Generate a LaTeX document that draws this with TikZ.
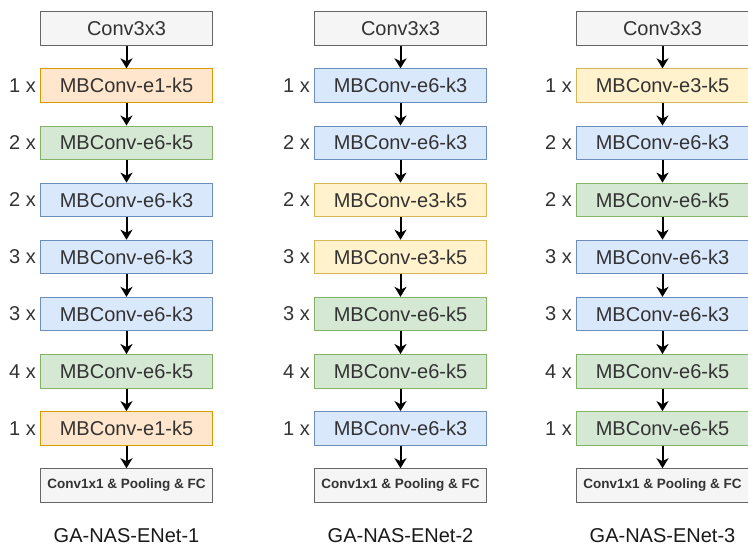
\documentclass[tikz,border=0pt]{standalone}
\usepackage{fontspec}
\setmainfont{Liberation Sans}
\usepackage{tikz}
\usetikzlibrary{positioning,arrows.meta}

\definecolor{grayfill}{HTML}{F5F5F5}
\definecolor{graydraw}{HTML}{666666}
\definecolor{orfill}{HTML}{FFE6CC}
\definecolor{ordraw}{HTML}{D79B00}
\definecolor{grfill}{HTML}{D5E8D4}
\definecolor{grdraw}{HTML}{82B366}
\definecolor{blfill}{HTML}{DAE8FC}
\definecolor{bldraw}{HTML}{6C8EBF}
\definecolor{yefill}{HTML}{FFF2CC}
\definecolor{yedraw}{HTML}{D6B656}
\definecolor{txt}{HTML}{333333}

\begin{document}
\begin{tikzpicture}[
  x=1pt, y=-1pt,
  block/.style={rectangle, draw, line width=1pt, minimum width=172pt, minimum height=33.5pt,
    inner sep=0pt, text=txt, font=\fontsize{20}{24}\selectfont},
  stem/.style={block, fill=grayfill, draw=graydraw},
  head/.style={stem, font=\bfseries\fontsize{13.5}{16}\selectfont},
  eone/.style={block, fill=orfill, draw=ordraw},
  ethree/.style={block, fill=yefill, draw=yedraw},
  ksix/.style={block, fill=grfill, draw=grdraw},
  kthree/.style={block, fill=blfill, draw=bldraw},
  mult/.style={text=txt, inner sep=0pt, font=\fontsize{20}{24}\selectfont},
  title/.style={text=black!90, inner sep=0pt, anchor=base, font=\fontsize{20}{24}\selectfont},
  flow/.style={line width=2pt, -{Stealth[length=10pt,width=12pt,inset=3pt]}}
]
  \useasboundingbox (0,0) rectangle (748,546);

  % GA-NAS-ENet-1
  \node[stem]   (b10) at (126.5,28.5)    {Conv3x3};
  \node[eone]   (b11) at (126.5,85.6)    {MBConv-e1-k5};
  \node[ksix]   (b12) at (126.5,142.8)   {MBConv-e6-k5};
  \node[kthree] (b13) at (126.5,199.9)   {MBConv-e6-k3};
  \node[kthree] (b14) at (126.5,257)     {MBConv-e6-k3};
  \node[kthree] (b15) at (126.5,314.1)   {MBConv-e6-k3};
  \node[ksix]   (b16) at (126.5,371.3)   {MBConv-e6-k5};
  \node[eone]   (b17) at (126.5,428.4)   {MBConv-e1-k5};
  \node[head]   (b18) at (126.5,485.5)   {Conv1x1 \& Pooling \& FC};

  % GA-NAS-ENet-2
  \node[stem]   (b20) at (400.5,28.5)    {Conv3x3};
  \node[kthree] (b21) at (400.5,85.6)    {MBConv-e6-k3};
  \node[kthree] (b22) at (400.5,142.8)   {MBConv-e6-k3};
  \node[ethree] (b23) at (400.5,199.9)   {MBConv-e3-k5};
  \node[ethree] (b24) at (400.5,257)     {MBConv-e3-k5};
  \node[ksix]   (b25) at (400.5,314.1)   {MBConv-e6-k5};
  \node[ksix]   (b26) at (400.5,371.3)   {MBConv-e6-k5};
  \node[kthree] (b27) at (400.5,428.4)   {MBConv-e6-k3};
  \node[head]   (b28) at (400.5,485.5)   {Conv1x1 \& Pooling \& FC};

  % GA-NAS-ENet-3
  \node[stem]   (b30) at (662.5,28.5)    {Conv3x3};
  \node[ethree] (b31) at (662.5,85.6)    {MBConv-e3-k5};
  \node[kthree] (b32) at (662.5,142.8)   {MBConv-e6-k3};
  \node[ksix]   (b33) at (662.5,199.9)   {MBConv-e6-k5};
  \node[kthree] (b34) at (662.5,257)     {MBConv-e6-k3};
  \node[kthree] (b35) at (662.5,314.1)   {MBConv-e6-k3};
  \node[ksix]   (b36) at (662.5,371.3)   {MBConv-e6-k5};
  \node[ksix]   (b37) at (662.5,428.4)   {MBConv-e6-k5};
  \node[head]   (b38) at (662.5,485.5)   {Conv1x1 \& Pooling \& FC};

  % repeat counts
  \foreach \c in {1,2,3}
    \foreach \n [count=\i] in {1,2,2,3,3,4,1}
      \node[mult, left=4pt of b\c\i] (m\c\i) {\n{} x};

  % arrows
  \foreach \c in {1,2,3}
    \foreach \i/\j in {0/1,1/2,2/3,3/4,4/5,5/6,6/7,7/8}
      \draw[flow] (b\c\i.south) -- (b\c\j.north);

  \node[title] (t1) at (126.5,542) {GA-NAS-ENet-1};
  \node[title] (t2) at (400.5,542) {GA-NAS-ENet-2};
  \node[title] (t3) at (662.5,542) {GA-NAS-ENet-3};
\end{tikzpicture}
\end{document}
